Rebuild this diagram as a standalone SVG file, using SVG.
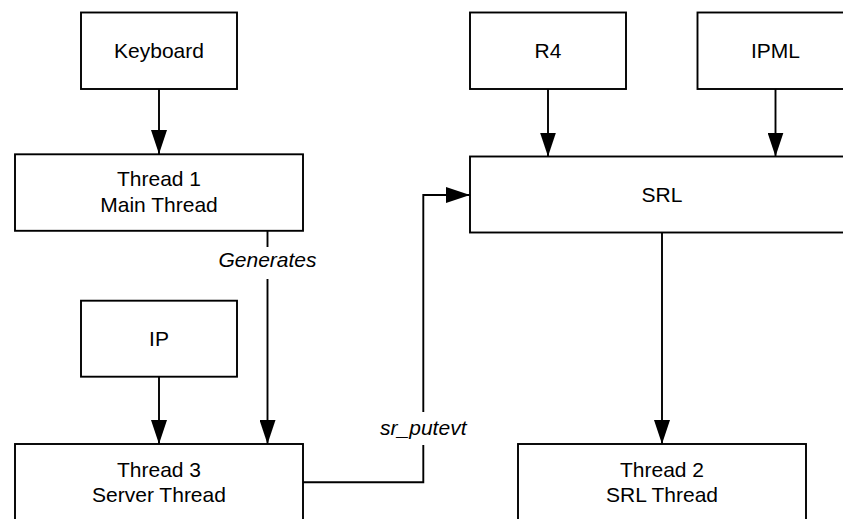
<svg xmlns="http://www.w3.org/2000/svg" width="843" height="519" viewBox="0 0 843 519">
  <style>
    .box { fill: #ffffff; stroke: #000000; stroke-width: 1.9; }
    .lbl { font-family: "Liberation Sans", Arial, sans-serif; font-size: 21px; fill: #000000; text-anchor: middle; }
    .edge { fill: none; stroke: #000000; stroke-width: 1.9; }
    .elbl { font-family: "Liberation Sans", Arial, sans-serif; font-size: 21px; font-style: italic; fill: #000000; text-anchor: middle; }
  </style>
  <defs>
    <marker id="arrow" markerUnits="userSpaceOnUse" markerWidth="24" markerHeight="16" refX="24" refY="8" orient="auto">
      <path d="M0,0 L24,8 L0,16 Z" fill="#000000"/>
    </marker>
  </defs>
  <rect x="0" y="0" width="843" height="519" fill="#ffffff"/>

  <!-- connectors -->
  <g id="connectors">
    <line class="edge" x1="159" y1="89" x2="159" y2="154" marker-end="url(#arrow)"/>
    <line class="edge" x1="159" y1="377" x2="159" y2="444" marker-end="url(#arrow)"/>
    <line class="edge" x1="267.5" y1="231" x2="267.5" y2="247"/>
    <line class="edge" x1="267.5" y1="279" x2="267.5" y2="444" marker-end="url(#arrow)"/>
    <text class="elbl" x="267.5" y="267">Generates</text>
    <polyline class="edge" points="303,482.3 423.3,482.3 423.3,445"/>
    <polyline class="edge" points="423.3,412 423.3,195 470,195" marker-end="url(#arrow)"/>
    <text class="elbl" x="423.3" y="435">sr_putevt</text>
    <line class="edge" x1="548" y1="89" x2="548" y2="156.5" marker-end="url(#arrow)"/>
    <line class="edge" x1="775.5" y1="89" x2="775.5" y2="156.5" marker-end="url(#arrow)"/>
    <line class="edge" x1="662" y1="232.5" x2="662" y2="444" marker-end="url(#arrow)"/>
  </g>

  <g id="keyboard">
    <rect class="box" x="81" y="12.5" width="156" height="76.5"/>
    <text class="lbl" x="159" y="57.5">Keyboard</text>
  </g>
  <g id="thread1">
    <rect class="box" x="15" y="154.3" width="288" height="76.5"/>
    <text class="lbl" x="159" y="186">Thread 1</text>
    <text class="lbl" x="159" y="211.5">Main Thread</text>
  </g>
  <g id="ip">
    <rect class="box" x="81" y="300.7" width="156" height="76"/>
    <text class="lbl" x="159" y="346">IP</text>
  </g>
  <g id="thread3">
    <rect class="box" x="15" y="444" width="288" height="76.5"/>
    <text class="lbl" x="159" y="476.7">Thread 3</text>
    <text class="lbl" x="159" y="502">Server Thread</text>
  </g>
  <g id="r4">
    <rect class="box" x="470" y="12.5" width="156" height="76.5"/>
    <text class="lbl" x="548" y="57.5">R4</text>
  </g>
  <g id="ipml">
    <rect class="box" x="697.5" y="12.5" width="156" height="76.5"/>
    <text class="lbl" x="775.5" y="57.5">IPML</text>
  </g>
  <g id="srl">
    <rect class="box" x="470" y="156.5" width="384" height="76"/>
    <text class="lbl" x="662" y="202">SRL</text>
  </g>
  <g id="thread2">
    <rect class="box" x="518" y="444" width="288" height="76.5"/>
    <text class="lbl" x="662" y="476.7">Thread 2</text>
    <text class="lbl" x="662" y="502">SRL Thread</text>
  </g>
</svg>
